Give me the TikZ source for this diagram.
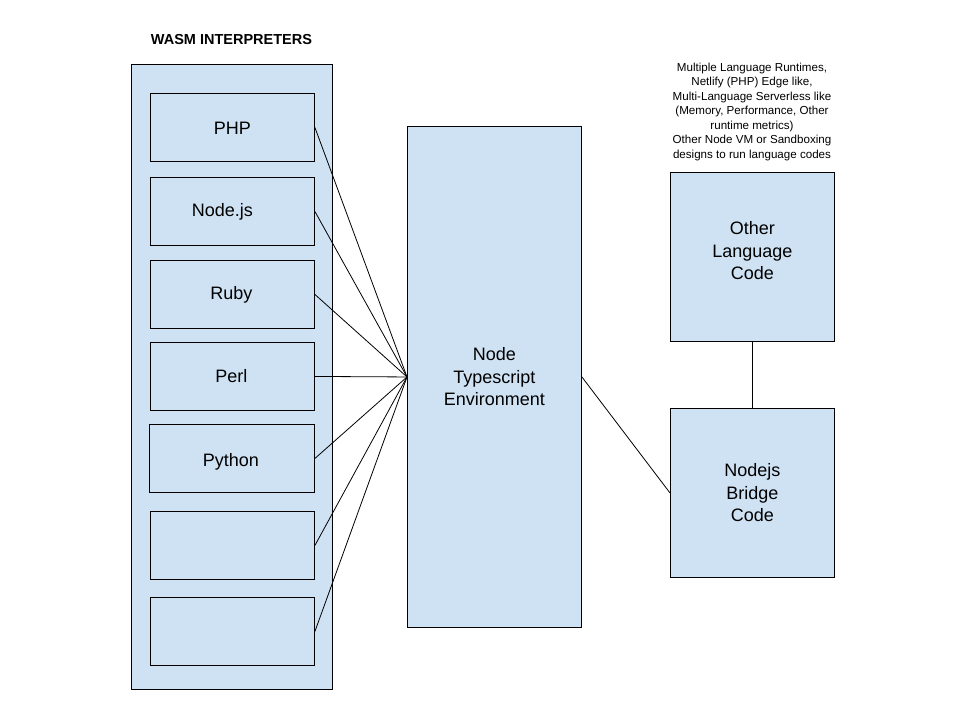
\documentclass[tikz,border=0pt]{standalone}
\usepackage{fontspec}
\setmainfont{Liberation Sans}
\definecolor{boxfill}{HTML}{CFE2F3}
\begin{document}
\begin{tikzpicture}[x=1pt,y=-1pt,
  box/.style={draw=black,fill=boxfill,line width=0.9pt,inner sep=0pt,anchor=north west},
  lbl/.style={font=\fontsize{18}{22.5}\selectfont,align=center,inner sep=0pt},
  conn/.style={draw=black,line width=0.8pt}]
\useasboundingbox (0,0) rectangle (960,720);
\fill[white] (0,0) rectangle (960,720);
% container
\node[box,minimum width=201pt,minimum height=625pt] (cont) at (131,64) {};
\node[font=\bfseries\fontsize{14.5}{16}\selectfont] (title) at (231.5,40) {WASM INTERPRETERS};
% interpreters
\node[box,minimum width=164pt,minimum height=68pt] (php) at (150,93) {};
\node[box,minimum width=164pt,minimum height=68pt] (nodejs) at (150,177) {};
\node[box,minimum width=164pt,minimum height=68pt] (ruby) at (150,260) {};
\node[box,minimum width=164pt,minimum height=68pt] (perl) at (150,342) {};
\node[box,minimum width=165pt,minimum height=68pt] (python) at (149,424) {};
\node[box,minimum width=164pt,minimum height=68pt] (e1) at (150,511) {};
\node[box,minimum width=164pt,minimum height=68pt] (e2) at (150,597) {};
\node[lbl] (phpt) at ([yshift=-1pt]php.center) {PHP};
\node[lbl] (nodejst) at ([xshift=-10pt]nodejs.center) {Node.js};
\node[lbl] (rubyt) at ([xshift=-1pt]ruby.center) {Ruby};
\node[lbl] (perlt) at ([xshift=-1pt]perl.center) {Perl};
\node[lbl] (pythont) at ([xshift=-1pt,yshift=-3pt]python.center) {Python};
% main
\node[box,minimum width=174pt,minimum height=501pt] (env) at (407,126) {};
\node[lbl] (envt) at (env.center) {Node\\Typescript\\Environment};
\node[box,minimum width=164pt,minimum height=169pt] (other) at (670,172) {};
\node[lbl] (othert) at ([yshift=6pt]other.center) {Other\\Language\\Code};
\node[box,minimum width=164pt,minimum height=169pt] (bridge) at (670,408) {};
\node[lbl] (bridget) at (bridge.center) {Nodejs\\Bridge\\Code};
\node[font=\fontsize{11.6}{14.5}\selectfont,align=center] (note) at (752,111.5) {Multiple Language Runtimes,\\Netlify (PHP) Edge like,\\Multi-Language Serverless like\\(Memory, Performance, Other\\runtime metrics)\\Other Node VM or Sandboxing\\designs to run language codes};
% connectors
\foreach \n in {php,nodejs,ruby,perl,python,e1,e2}
  \draw[conn] (\n.east) -- (env.west);
\draw[conn] (env.east) -- (bridge.west);
\draw[conn] (other.south) -- (bridge.north);
\end{tikzpicture}
\end{document}
